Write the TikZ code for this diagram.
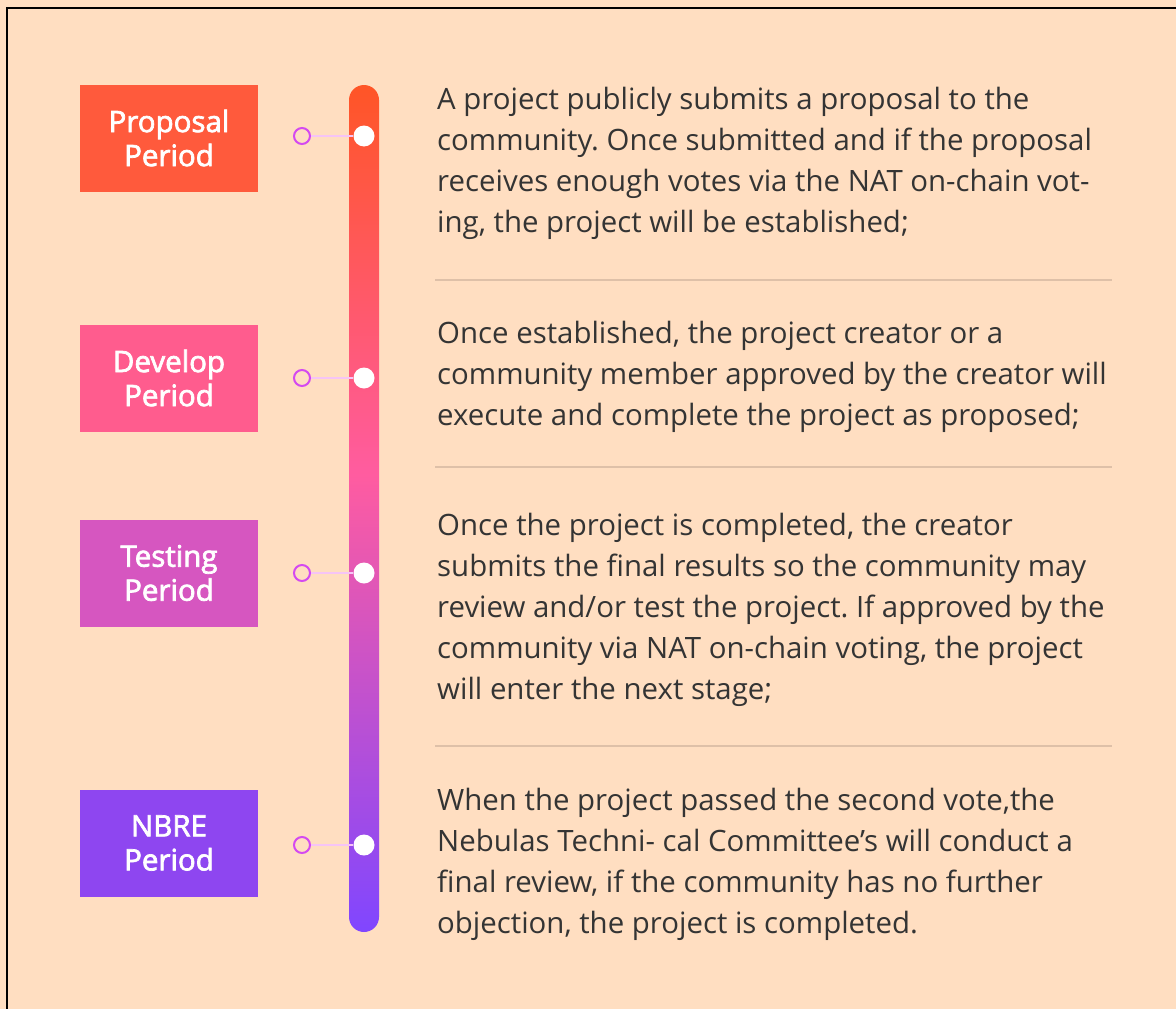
\documentclass[tikz,border=0pt]{standalone}
\usepackage{fontspec}
\setmainfont{Open Sans}
\newfontfamily\labelfont[FakeBold=2.4]{Open Sans}
\usetikzlibrary{positioning}
\frenchspacing

\definecolor{bgpeach}{RGB}{255,222,193}
\definecolor{textgray}{RGB}{52,52,52}
\definecolor{sepbeige}{RGB}{222,192,168}
\definecolor{ringpurple}{RGB}{212,74,240}
\definecolor{stempink}{RGB}{246,196,246}
\definecolor{propred}{RGB}{255,90,60}
\definecolor{devpink}{RGB}{255,92,142}
\definecolor{testmag}{RGB}{214,86,192}
\definecolor{nbreviolet}{RGB}{142,70,240}
\definecolor{bartop}{RGB}{255,85,38}
\definecolor{barmid}{RGB}{255,92,160}
\definecolor{barbot}{RGB}{128,70,255}

%% bar runs 85..932, mapped onto 75bp..25bp
\pgfdeclareverticalshading{barshade}{100bp}{color(0bp)=(barbot); color(25bp)=(barbot);
  color(52bp)=(barmid); color(75bp)=(bartop); color(100bp)=(bartop)}

\begin{document}
\begin{tikzpicture}[x=1pt,y=-1pt,
  period/.style={minimum width=178pt, minimum height=107pt, inner sep=0pt,
    text=white, align=center, font=\labelfont\fontsize{29.5}{34}\selectfont},
  dot/.style={circle, fill=white, minimum size=21pt, inner sep=0pt},
  ring/.style={circle, draw=ringpurple, line width=2pt, minimum size=16pt, inner sep=0pt},
  stem/.style={draw=stempink, line width=1.6pt},
  desc/.style={anchor=north west, inner sep=0pt, align=left, text=textgray,
    font=\fontsize{29.4}{41}\selectfont},
  sepline/.style={draw=sepbeige, line width=2pt}]

  %% page
  \fill[bgpeach] (0,0) rectangle (1176,1009);
  \useasboundingbox (0,0) rectangle (1176,1009);
  \draw[line width=2pt] (7,1009) -- (7,8) -- (1176,8);

  %% timeline bar
  \shade[shading=barshade, rounded corners=15pt] (349,85) rectangle (379,932);

  %% period boxes
  \node[period, fill=propred]    (proposal) at (169,138) {Proposal\\Period};
  \node[period, fill=devpink]    (develop)  at (169,378) {Develop\\Period};
  \node[period, fill=testmag]    (testing)  at (169,573) {Testing\\Period};
  \node[period, fill=nbreviolet] (nbre)     at (169,843) {NBRE\\Period};

  %% dots and rings
  \node[dot]  (dotA)  at (364,136) {};
  \node[dot]  (dotB)  at (364,378) {};
  \node[dot]  (dotC)  at (364,573) {};
  \node[dot]  (dotD)  at (364,845) {};
  \node[ring] (ringA) at (302,136) {};
  \node[ring] (ringB) at (302,378) {};
  \node[ring] (ringC) at (302,573) {};
  \node[ring] (ringD) at (302,845) {};

  \draw[stem] (ringA) -- (dotA);
  \draw[stem] (ringB) -- (dotB);
  \draw[stem] (ringC) -- (dotC);
  \draw[stem] (ringD) -- (dotD);

  %% descriptions
  \node[desc] (descA) at (437,86.6) {A project publicly submits a proposal to the\\
    community. Once submitted and if the proposal\\
    receives enough votes via the NAT on-chain vot-\\
    ing, the project will be established;};
  \node[desc] (descB) at (437,320.6) {Once established, the project creator or a\\
    community member approved by the creator will\\
    execute and complete the project as proposed;};
  \node[desc] (descC) at (437,512.6) {Once the project is completed, the creator\\
    submits the final results so the community may\\
    review and/or test the project. If approved by the\\
    community via NAT on-chain voting, the project\\
    will enter the next stage;};
  \node[desc] (descD) at (437,787.6) {When the project passed the second vote,the\\
    Nebulas Techni- cal Committee’s will conduct a\\
    final review, if the community has no further\\
    objection, the project is completed.};

  %% separators
  \coordinate (sepAl) at (435,280);
  \coordinate (sepAr) at (1112,280);
  \coordinate (sepBl) at (435,467);
  \coordinate (sepBr) at (1112,467);
  \coordinate (sepCl) at (435,746);
  \coordinate (sepCr) at (1112,746);
  \draw[sepline] (sepAl) -- (sepAr);
  \draw[sepline] (sepBl) -- (sepBr);
  \draw[sepline] (sepCl) -- (sepCr);

\end{tikzpicture}
\end{document}
